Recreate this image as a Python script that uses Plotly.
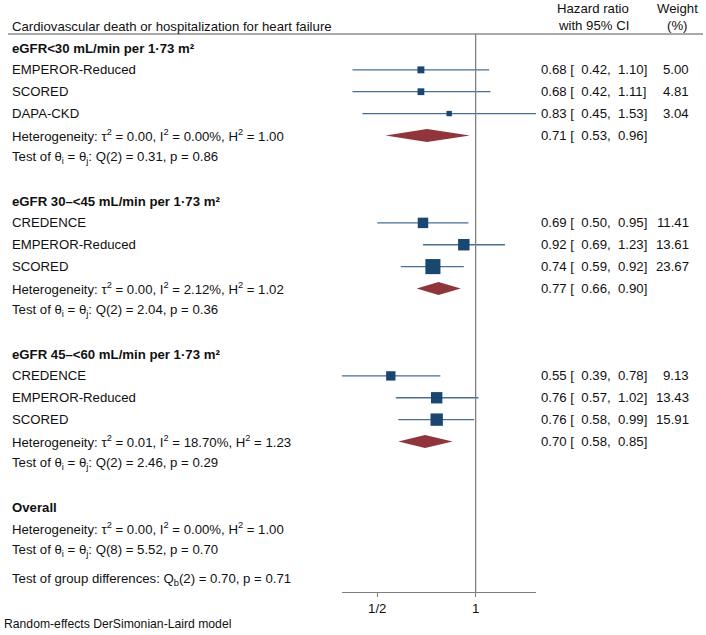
import numpy as np
import plotly.graph_objects as go

# subgroup data
group_titles = [
    "eGFR&lt;30 mL/min per 1·73 m²",
    "eGFR 30–&lt;45 mL/min per 1·73 m²",
    "eGFR 45–&lt;60 mL/min per 1·73 m²",
]
study_names = [
    ["EMPEROR-Reduced", "SCORED", "DAPA-CKD"],
    ["CREDENCE", "EMPEROR-Reduced", "SCORED"],
    ["CREDENCE", "EMPEROR-Reduced", "SCORED"],
]
study_hr = [[0.68, 0.68, 0.83], [0.69, 0.92, 0.74], [0.55, 0.76, 0.76]]
study_lo = [[0.42, 0.42, 0.45], [0.50, 0.69, 0.59], [0.39, 0.57, 0.58]]
study_hi = [[1.10, 1.11, 1.53], [0.95, 1.23, 0.92], [0.78, 1.02, 0.99]]
study_weight = [[5.00, 4.81, 3.04], [11.41, 13.61, 23.67], [9.13, 13.43, 15.91]]

group_hr = [0.71, 0.77, 0.70]
group_lo = [0.53, 0.66, 0.58]
group_hi = [0.96, 0.90, 0.85]
group_tau2 = [0.00, 0.00, 0.01]
group_i2 = [0.00, 2.12, 18.70]
group_h2 = [1.00, 1.02, 1.23]
group_q = [0.31, 2.04, 2.46]
group_df = [2, 2, 2]
group_p = [0.86, 0.36, 0.29]

overall_tau2 = 0.00
overall_i2 = 0.00
overall_h2 = 1.00
overall_q = 5.52
overall_df = 8
overall_p = 0.70
diff_q = 0.70
diff_df = 2
diff_p = 0.71

tick_vals = [0.5, 1]
tick_text = ["1/2", "1"]

FONT = "Liberation Sans, Arial, sans-serif"
FS = 13.2
W, H = 706, 635
ROW_PX = 21.86
ROW0_PX = 48

MARKER_C = "#1a476f"
CI_C = "#4a6e94"
DIAM_C = "#90353b"
GRAY = "#808080"


def het_text(t2, i2, h2):
    return ("Heterogeneity: τ<sup>2</sup> = %.2f, I<sup>2</sup> = %.2f%%, H<sup>2</sup> = %.2f"
            % (t2, i2, h2))


def test_text(df, q, p):
    return "Test of θ<sub>i</sub> = θ<sub>j</sub>: Q(%d) = %.2f, p = %.2f" % (df, q, p)


def ci_text(hr, lo, hi):
    return "%.2f [ %5.2f, %5.2f]" % (hr, lo, hi)


labels = []   # (row, text)
stats = []    # (row, ci string, weight string)
ci_x, ci_y = [], []
sq_x, sq_y, sq_size = [], [], []
diamonds = []  # (row, hr, lo, hi)

row = 0
for g in range(len(group_titles)):
    labels.append((row, "<b>%s</b>" % group_titles[g]))
    row += 1
    for name, hr, lo, hi, w in zip(study_names[g], study_hr[g], study_lo[g],
                                   study_hi[g], study_weight[g]):
        labels.append((row, name))
        stats.append((row, ci_text(hr, lo, hi), "%.2f" % w))
        ci_x += [lo, hi, None]
        ci_y += [row, row, None]
        sq_x.append(hr)
        sq_y.append(row)
        sq_size.append(3.1 * np.sqrt(w))
        row += 1
    labels.append((row, het_text(group_tau2[g], group_i2[g], group_h2[g])))
    stats.append((row, ci_text(group_hr[g], group_lo[g], group_hi[g]), ""))
    diamonds.append((row, group_hr[g], group_lo[g], group_hi[g]))
    row += 1
    labels.append((row, test_text(group_df[g], group_q[g], group_p[g])))
    row += 2

labels.append((row, "<b>Overall</b>"))
labels.append((row + 1, het_text(overall_tau2, overall_i2, overall_h2)))
labels.append((row + 2, test_text(overall_df, overall_q, overall_p)))
labels.append((row + 3.3, "Test of group differences: Q<sub>b</sub>(%d) = %.2f, p = %.2f"
               % (diff_df, diff_q, diff_p)))


def px_to_row(p):
    return (p - ROW0_PX) / ROW_PX


fig = go.Figure()

fig.add_trace(go.Scatter(x=ci_x, y=ci_y, mode="lines",
                         line=dict(color=CI_C, width=1.3), hoverinfo="skip"))
dh = 6.5 / ROW_PX
for r, hr, lo, hi in diamonds:
    fig.add_trace(go.Scatter(x=[lo, hr, hi, hr, lo], y=[r, r - dh, r, r + dh, r],
                             mode="lines", fill="toself", fillcolor=DIAM_C,
                             line=dict(width=0, color=DIAM_C), hoverinfo="skip"))
fig.add_trace(go.Scatter(x=sq_x, y=sq_y, mode="markers",
                         marker=dict(symbol="square", size=sq_size, color=MARKER_C,
                                     opacity=1, line=dict(width=0))))

ann = []
for r, t in labels:
    ann.append(dict(x=10 / W, y=r, xref="paper", yref="y", text=t, showarrow=False,
                    xanchor="left", yanchor="middle", font=dict(size=FS)))
for r, c, w in stats:
    ann.append(dict(x=539 / W, y=r, xref="paper", yref="y", text=c, showarrow=False,
                    xanchor="left", yanchor="middle", font=dict(size=FS)))
    if w:
        ann.append(dict(x=691 / W, y=r, xref="paper", yref="y", text=w, showarrow=False,
                        xanchor="right", yanchor="middle", font=dict(size=FS)))

ann.append(dict(x=10 / W, y=px_to_row(26), xref="paper", yref="y", showarrow=False,
                text="Cardiovascular death or hospitalization for heart failure",
                xanchor="left", yanchor="middle", font=dict(size=FS)))
ann.append(dict(x=593 / W, y=px_to_row(8), xref="paper", yref="y", showarrow=False,
                text="Hazard ratio", xanchor="center", yanchor="middle", font=dict(size=FS)))
ann.append(dict(x=593 / W, y=px_to_row(25), xref="paper", yref="y", showarrow=False,
                text="with 95% CI", xanchor="center", yanchor="middle", font=dict(size=FS)))
ann.append(dict(x=677 / W, y=px_to_row(8), xref="paper", yref="y", showarrow=False,
                text="Weight", xanchor="center", yanchor="middle", font=dict(size=FS)))
ann.append(dict(x=677 / W, y=px_to_row(25), xref="paper", yref="y", showarrow=False,
                text="(%)", xanchor="center", yanchor="middle", font=dict(size=FS)))
ann.append(dict(x=2 / W, y=px_to_row(624), xref="paper", yref="y", showarrow=False,
                text="Random-effects DerSimonian-Laird model",
                xanchor="left", yanchor="middle", font=dict(size=12.2)))

shapes = [
    dict(type="line", xref="paper", yref="y", x0=8 / W, x1=703 / W,
         y0=px_to_row(34), y1=px_to_row(34), line=dict(color="#555555", width=1.2)),
    dict(type="line", xref="x", yref="y", x0=1, x1=1,
         y0=px_to_row(34), y1=px_to_row(592), line=dict(color=GRAY, width=1.3)),
]

x_min = min(min(v) for v in study_lo)
x_max = max(max(v) for v in study_hi)

fig.update_layout(
    width=W, height=H,
    margin=dict(l=0, r=0, t=0, b=0),
    paper_bgcolor="white", plot_bgcolor="white",
    showlegend=False,
    font=dict(family=FONT, size=FS, color="#111111"),
    annotations=ann, shapes=shapes,
    xaxis=dict(type="log", range=[np.log10(x_min), np.log10(x_max)],
               domain=[342 / W, 536 / W], anchor="free", position=1 - 592 / H,
               showgrid=False, zeroline=False, showline=True, linecolor=GRAY,
               linewidth=1.3, ticks="outside", ticklen=4, tickcolor=GRAY,
               tickvals=tick_vals, ticktext=tick_text,
               tickfont=dict(size=FS, color="#111111")),
    yaxis=dict(range=[px_to_row(H), px_to_row(0)], domain=[0, 1], visible=False,
               showgrid=False, zeroline=False),
)

# drop the default page margin so the figure sits at the window's top-left corner
fig.write_html("out.html",
               config={"displayModeBar": False},
               post_script="document.body.style.margin='0';"
                           "document.body.style.overflow='hidden';")
